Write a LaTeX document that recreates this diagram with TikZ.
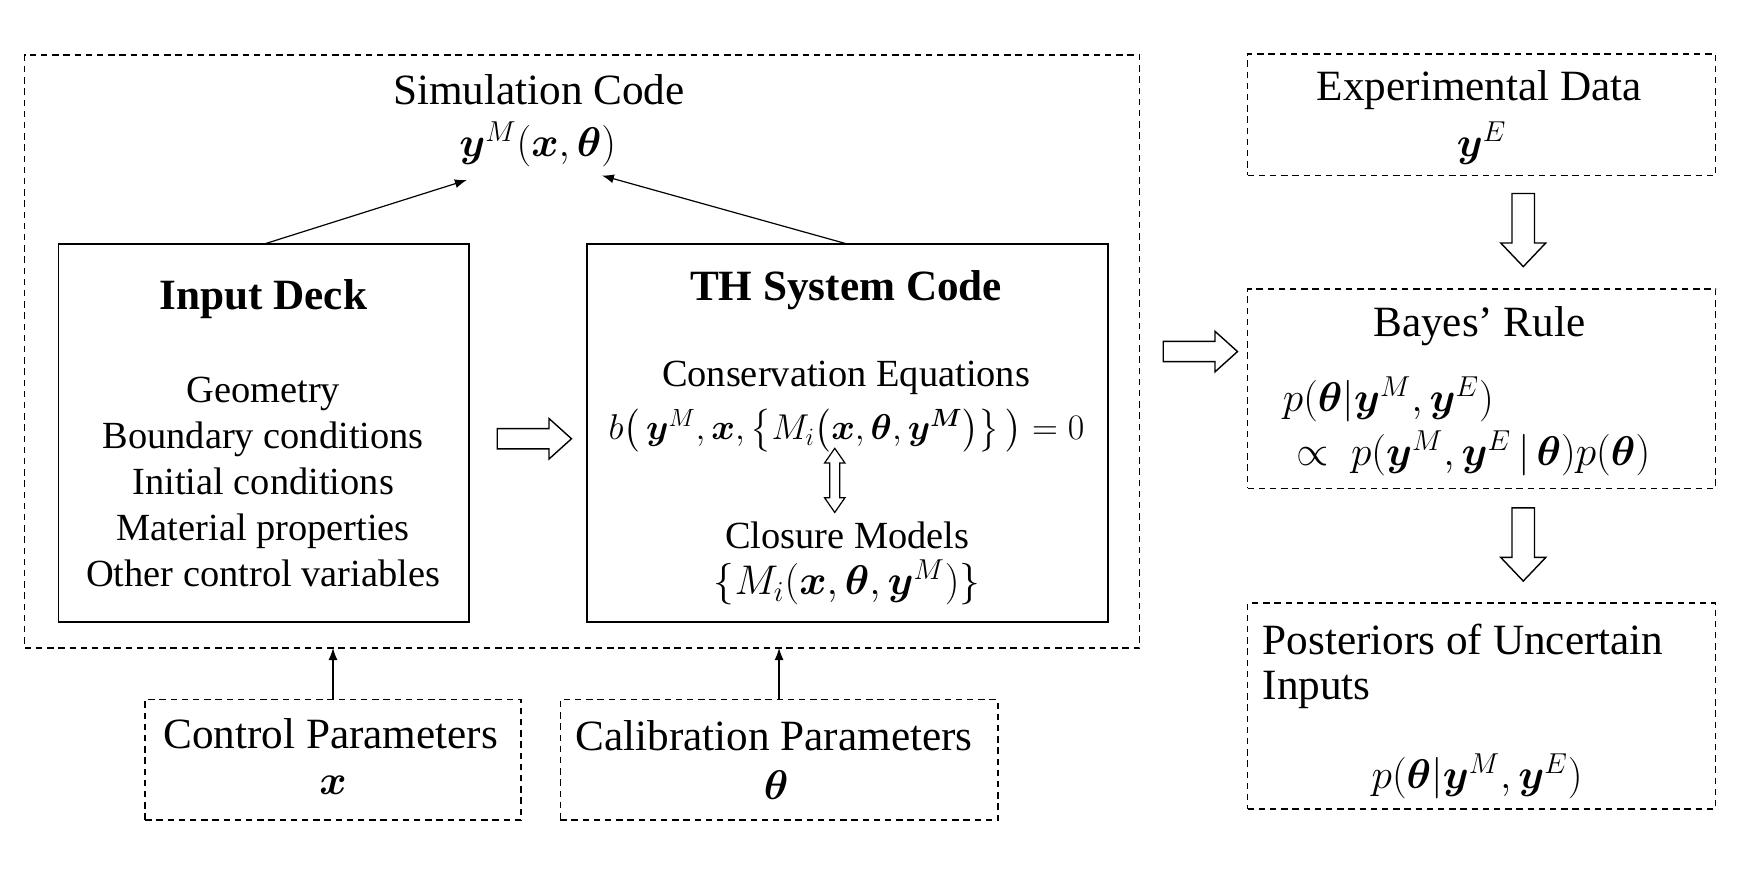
\documentclass[tikz,border=0pt]{standalone}
\usepackage{amsmath,bm}
\usepackage{graphicx}
\usepackage{fontspec}
\setmainfont{Liberation Serif}
\usetikzlibrary{arrows.meta}
\newcommand{\pxu}{*0.5625pt}
\newcommand{\titlesize}{\fontsize{21.6}{26}\selectfont}
\newcommand{\bodysize}{\fontsize{19.2}{23}\selectfont}
\tikzset{
  box/.style={inner sep=0pt, outer sep=0pt},
  solidbox/.style={box, draw, line width=0.8pt},
  dashbox/.style={box, draw, line width=0.7pt, dash pattern=on 3.2pt off 2.4pt},
  ttl/.style={inner sep=0pt, font=\titlesize},
  bdy/.style={inner sep=0pt, font=\bodysize, align=center},
  thinarrow/.style={line width=0.6pt, -{Latex[length=6pt,width=4.5pt]}},
  hright/.pic={\draw[line width=0.7pt, fill=white] (-33,-9) -- (13,-9) -- (13,-18) -- (33,0) -- (13,18) -- (13,9) -- (-33,9) -- cycle;},
  hdown/.pic={\draw[line width=0.7pt, fill=white] (-10,-32.5) -- (10,-32.5) -- (10,11.5) -- (20,11.5) -- (0,32.5) -- (-20,11.5) -- (-10,11.5) -- cycle;},
  hboth/.pic={\draw[line width=0.6pt, fill=white] (0,-28.5) -- (9,-15.5) -- (4.5,-15.5) -- (4.5,15.5) -- (9,15.5) -- (0,28.5) -- (-9,15.5) -- (-4.5,15.5) -- (-4.5,-15.5) -- (-9,-15.5) -- cycle;}
}
\begin{document}
\begin{tikzpicture}[x=0.5625pt,y=-0.5625pt]
\useasboundingbox (0,0) rectangle (1568,782);
% boxes
\node[dashbox, minimum width=991\pxu, minimum height=527\pxu] (sim) at (517.5,312.5) {};
\node[solidbox, minimum width=365\pxu, minimum height=336\pxu] (deck) at (234.5,385) {};
\node[solidbox, minimum width=463\pxu, minimum height=336\pxu] (th) at (753.5,385) {};
\node[dashbox, minimum width=334\pxu, minimum height=107\pxu] (ctrl) at (296,675.5) {};
\node[dashbox, minimum width=389\pxu, minimum height=107\pxu] (calib) at (692.5,675.5) {};
\node[dashbox, minimum width=416\pxu, minimum height=108\pxu] (exp) at (1317,102) {};
\node[dashbox, minimum width=416\pxu, minimum height=177\pxu] (bayes) at (1317,345.5) {};
\node[dashbox, minimum width=416\pxu, minimum height=183\pxu] (post) at (1317,627.5) {};
% texts
\node[ttl] (simt) at (479,80) {Simulation Code};
\node[ttl] (ym) at (478,128) {$\bm{y}^M(\bm{x},\bm{\theta})$};
\node[ttl, font=\titlesize\bfseries] (deckt) at (234,266) {Input Deck};
\node[bdy] (deckl) at (234,428) {Geometry\\Boundary conditions\\Initial conditions\\Material properties\\Other control variables};
\node[ttl, font=\titlesize\bfseries] (tht) at (752,258) {TH System Code};
\node[bdy] (cons) at (752,336) {Conservation Equations};
\node[bdy] (eq) at (752.5,383) {\resizebox{237.9pt}{!}{$b\big(\,\bm{y}^M,\bm{x},\big\{M_i\big(\bm{x},\bm{\theta},\bm{y}^{\bm{M}}\big)\big\}\,\big)=0$}};
\node[bdy] (clos) at (753,476) {Closure Models};
\node[bdy] (closeq) at (753,518) {$\{M_i(\bm{x},\bm{\theta},\bm{y}^M)\}$};
\node[ttl] (ctrlt) at (294,652) {Control Parameters};
\node[ttl] (ctrlx) at (296,698) {$\bm{x}$};
\node[ttl] (calibt) at (688,654) {Calibration Parameters};
\node[ttl] (calibth) at (690,698) {$\bm{\theta}$};
\node[ttl] (expt) at (1315,80) {Experimental Data};
\node[ttl] (expy) at (1317,127) {$\bm{y}^E$};
\node[ttl] (bayest) at (1315,290) {Bayes’ Rule};
\node[ttl, anchor=west] (bay1) at (1140,355) {$p(\bm{\theta}|\bm{y}^M,\bm{y}^E)$};
\node[ttl, anchor=west] (bay2) at (1152,403) {$\propto\ p(\bm{y}^M,\bm{y}^E\,|\,\bm{\theta})p(\bm{\theta})$};
\node[ttl, anchor=west] (post1) at (1122,568) {Posteriors of Uncertain};
\node[ttl, anchor=west] (post2) at (1122,613) {Inputs};
\node[ttl] (post3) at (1313,690) {$p(\bm{\theta}|\bm{y}^M,\bm{y}^E)$};
% connectors
\coordinate (ymL) at (415,160);
\coordinate (ymR) at (535,156);
\draw[thinarrow] (deck.north) -- (ymL);
\draw[thinarrow] (th.north) -- (ymR);
\draw[thinarrow] (ctrl.north) -- (ctrl.north |- sim.south);
\draw[thinarrow] (calib.north) -- (calib.north |- sim.south);
% hollow arrows
\pic at (475,390) {hright};
\pic at (1067,312.5) {hright};
\pic at (1354,204.5) {hdown};
\pic at (1354,484) {hdown};
\pic at (742,427) {hboth};
\end{tikzpicture}
\end{document}
